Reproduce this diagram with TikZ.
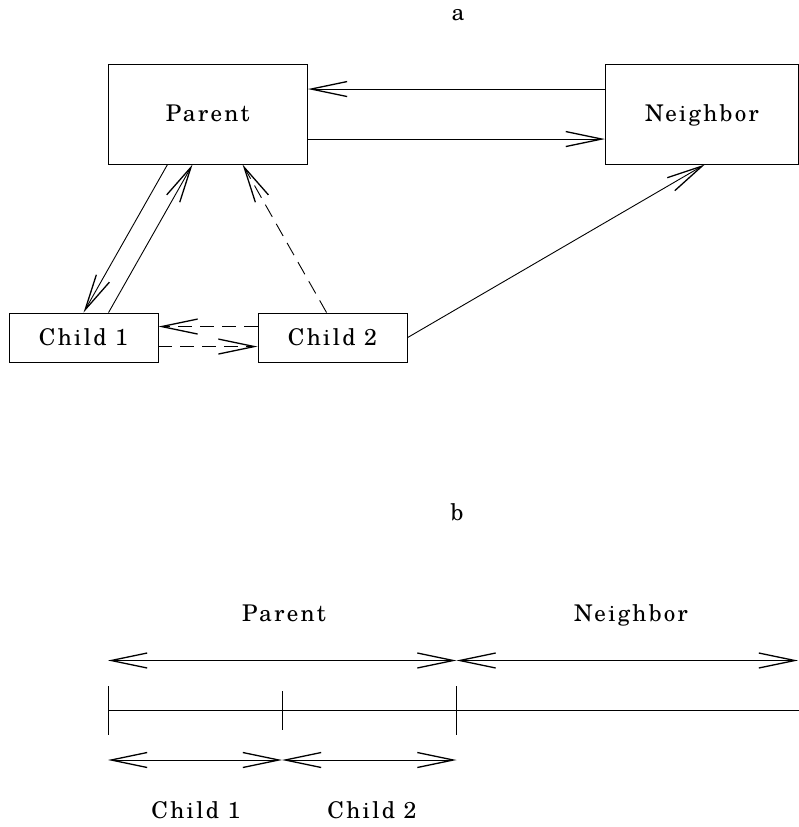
\documentclass[tikz,border=0pt]{standalone}
\usepackage{fontspec}
\newfontfamily\lblfont{texgyreschola-regular.otf}[LetterSpace=10]
\usetikzlibrary{positioning,calc,arrows.meta}

\begin{document}
\begin{tikzpicture}[
        x=1pt, y=-1pt,
        % Style for the labels: wide spaced serif
        lbl/.style={
            font=\lblfont\fontsize{23}{27}\selectfont
        },
        % Style for the boxes
        box/.style={
            rectangle,
            draw,
            line width=0.9pt,
            inner sep=0pt,
            text height=15pt,
            text depth=0pt,
            lbl
        },
        % Style for the solid connectors
        link/.style={
            draw,
            line width=0.9pt,
            -{Straight Barb[length=36pt,width=15pt,line width=1.3pt]}
        },
        % Style for the dashed connectors
        msg/.style={
            link,
            dash pattern=on 14pt off 8pt
        },
        % Style for the two-way spans
        span/.style={
            draw,
            line width=0.9pt,
            {Straight Barb[length=36pt,width=15pt,line width=1.3pt]}-{Straight Barb[length=36pt,width=15pt,line width=1.3pt]}
        },
        % Style for the scale line
        rule/.style={
            draw,
            line width=0.9pt
        }
    ]

        \useasboundingbox (0,0) rectangle (799,827);

        % --- PART a ---
        \node[lbl, anchor=base] (capa) at (458,20.5) {a};

        \node[box, minimum width=199.5pt, minimum height=99.5pt] (parent) at (207.75,114.25) {Parent};
        \node[box, minimum width=193pt, minimum height=99.5pt] (neighbor) at (701.9,114.25) {Neighbor};
        \node[box, minimum width=149pt, minimum height=49.3pt] (child1) at (83.5,337.65) {Child 1};
        \node[box, minimum width=149pt, minimum height=49.3pt] (child2) at (332.5,337.65) {Child 2};

        % Parent <-> Neighbor
        \draw[link] ($(neighbor.north west)+(0,25)$) -- ($(parent.north east)+(0,25)$);
        \draw[link] ($(parent.north east)+(0,75)$) -- ($(neighbor.north west)+(0,75)$);

        % Parent <-> Child 1
        \draw[link] ($(parent.south west)+(60,0)$) -- ($(child1.north west)+(75,0)$);
        \draw[link] ($(child1.north west)+(100,0)$) -- ($(parent.south west)+(85,0)$);

        % Child 2 -> Parent, Child 1 <-> Child 2
        \draw[msg] ($(child2.north west)+(69,0)$) -- ($(parent.south west)+(135,0)$);
        \draw[msg] ($(child2.north west)+(0,14)$) -- ($(child1.north east)+(0,14)$);
        \draw[msg] ($(child1.north east)+(0,34)$) -- ($(child2.north west)+(0,34)$);

        % Child 2 -> Neighbor
        \draw[link] (child2.east) -- ($(neighbor.south)+(3,0)$);

        % --- PART b ---
        \node[lbl, anchor=base] (capb) at (457,520.5) {b};

        \coordinate (s0) at (108,710.5);
        \coordinate (s1) at (282,710.5);
        \coordinate (s2) at (456.5,710.5);
        \coordinate (s3) at (799,710.5);

        \node[lbl, anchor=base] (lparent) at (284,621.7) {Parent};
        \node[lbl, anchor=base] (lneighbor) at (631,621.7) {Neighbor};
        \node[lbl, anchor=base] (lchild1) at (196,818) {Child 1};
        \node[lbl, anchor=base] (lchild2) at (372,818) {Child 2};

        % upper spans
        \draw[span] ($(s0)+(0,-50)$) -- ($(s2)+(0,-50)$);
        \draw[span] ($(s2)+(0,-50)$) -- ($(s3)+(-1,-50)$);

        % scale line and ticks
        \draw[rule] (s0) -- (s3);
        \draw[rule] ($(s0)+(0,-24.5)$) -- ($(s0)+(0,24.5)$);
        \draw[rule] ($(s1)+(0,-19.5)$) -- ($(s1)+(0,19.5)$);
        \draw[rule] ($(s2)+(0,-24.5)$) -- ($(s2)+(0,24.5)$);

        % lower spans
        \draw[span] ($(s0)+(0,49.5)$) -- ($(s1)+(0,49.5)$);
        \draw[span] ($(s1)+(0,49.5)$) -- ($(s2)+(0,49.5)$);

    \end{tikzpicture}
\end{document}
